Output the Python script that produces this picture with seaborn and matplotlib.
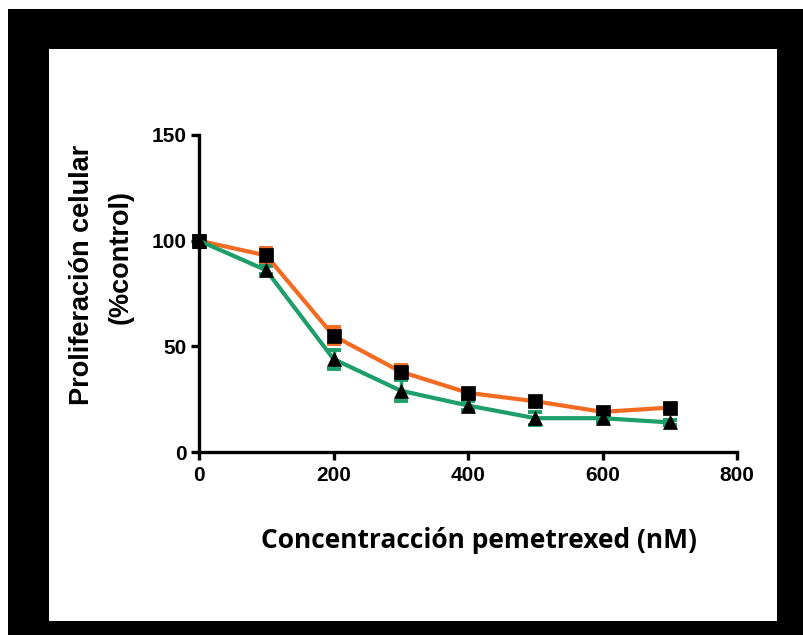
import matplotlib
matplotlib.use("Agg")
import matplotlib.pyplot as plt
from matplotlib.patches import Rectangle
import seaborn as sns
import pandas as pd

# ---- data ----
concentration = [0, 100, 200, 300, 400, 500, 600, 700]
series_a = [100, 93, 55, 38, 28, 24, 19, 21]      # orange, squares
series_a_err = [2, 3.5, 4, 3, 2, 2, 1.5, 1.5]
series_b = [100, 86, 44, 29, 22, 16, 16, 14]      # green, triangles
series_b_err = [2, 2, 4.5, 5, 2, 3, 2, 1]
series_names = ["A", "B"]
x_ticks = [0, 200, 400, 600, 800]
y_ticks = [0, 50, 100, 150]

ORANGE = "#F26B21"
GREEN = "#1E9E6B"

df = pd.DataFrame({
    "conc": concentration * 2,
    "val": series_a + series_b,
    "series": [series_names[0]] * len(concentration) + [series_names[1]] * len(concentration),
})

sns.set_theme(style="ticks")
plt.rcParams["font.family"] = ["Liberation Sans", "DejaVu Sans"]
plt.rcParams["text.color"] = "black"
plt.rcParams["xtick.color"] = "black"
plt.rcParams["ytick.color"] = "black"
plt.rcParams["xtick.labelcolor"] = "black"
plt.rcParams["ytick.labelcolor"] = "black"

W, H = 804, 635
fig = plt.figure(figsize=(W / 100, H / 100), dpi=100)
fig.patch.set_facecolor("white")

# black frame with inner white panel
fig.patches.append(Rectangle((8 / W, 0), (W - 8) / W, (H - 9) / H, transform=fig.transFigure,
                             facecolor="black", edgecolor="none", zorder=-10))
fig.patches.append(Rectangle((49 / W, 1 - 621 / H), (777 - 49) / W, (621 - 49) / H,
                             transform=fig.transFigure, facecolor="white", edgecolor="none", zorder=-9))

ax = fig.add_axes([199 / W, 1 - 452 / H, (737 - 199) / W, (452 - 135) / H])
ax.set_facecolor("none")

# error bars
ax.errorbar(concentration, series_a, yerr=series_a_err, fmt="none", ecolor=ORANGE,
            elinewidth=2.5, capsize=5, capthick=2.8, zorder=2, clip_on=False)
ax.errorbar(concentration, series_b, yerr=series_b_err, fmt="none", ecolor=GREEN,
            elinewidth=2.5, capsize=5, capthick=2.8, zorder=2, clip_on=False)

sns.lineplot(data=df, x="conc", y="val", hue="series", style="series",
             palette={"A": ORANGE, "B": GREEN},
             markers={"A": "s", "B": "^"}, dashes=False,
             linewidth=3, markersize=10, markerfacecolor="black", markeredgecolor="black",
             markeredgewidth=0.5, legend=False, ax=ax, clip_on=False, zorder=3)

ax.set_xlim(0, 800)
ax.set_ylim(0, 150)
ax.set_xticks(x_ticks)
ax.set_yticks(y_ticks)
ax.set_xlabel("")
ax.set_ylabel("")
sns.despine(ax=ax)
for s in ["left", "bottom"]:
    ax.spines[s].set_linewidth(2.4)
    ax.spines[s].set_color("black")
ax.tick_params(axis="both", direction="out", length=6, width=2.4, color="black",
               labelsize=15, labelcolor="black")
ax.tick_params(axis="y", pad=3)
ax.tick_params(axis="x", pad=4)
for lab in ax.get_xticklabels() + ax.get_yticklabels():
    lab.set_fontweight("bold")
    lab.set_family(["Liberation Sans", "DejaVu Sans"])

# axis titles
fig.text(82 / W, 1 - 275 / H, "Proliferación celular", rotation=90, ha="center", va="center",
         fontsize=19.5, fontweight="bold", color="black", family=["Liberation Sans", "DejaVu Sans"])
fig.text(121 / W, 1 - 257 / H, "(%control)", rotation=90, ha="center", va="center",
         fontsize=19.5, fontweight="bold", color="black", family=["Liberation Sans", "DejaVu Sans"])
fig.text(479 / W, 1 - 540 / H, "Concentracción pemetrexed (nM)", ha="center", va="center",
         fontsize=19, fontweight="bold", color="black", family=["Open Sans", "DejaVu Sans"])

fig.savefig("out.png", dpi=100, facecolor="white")
